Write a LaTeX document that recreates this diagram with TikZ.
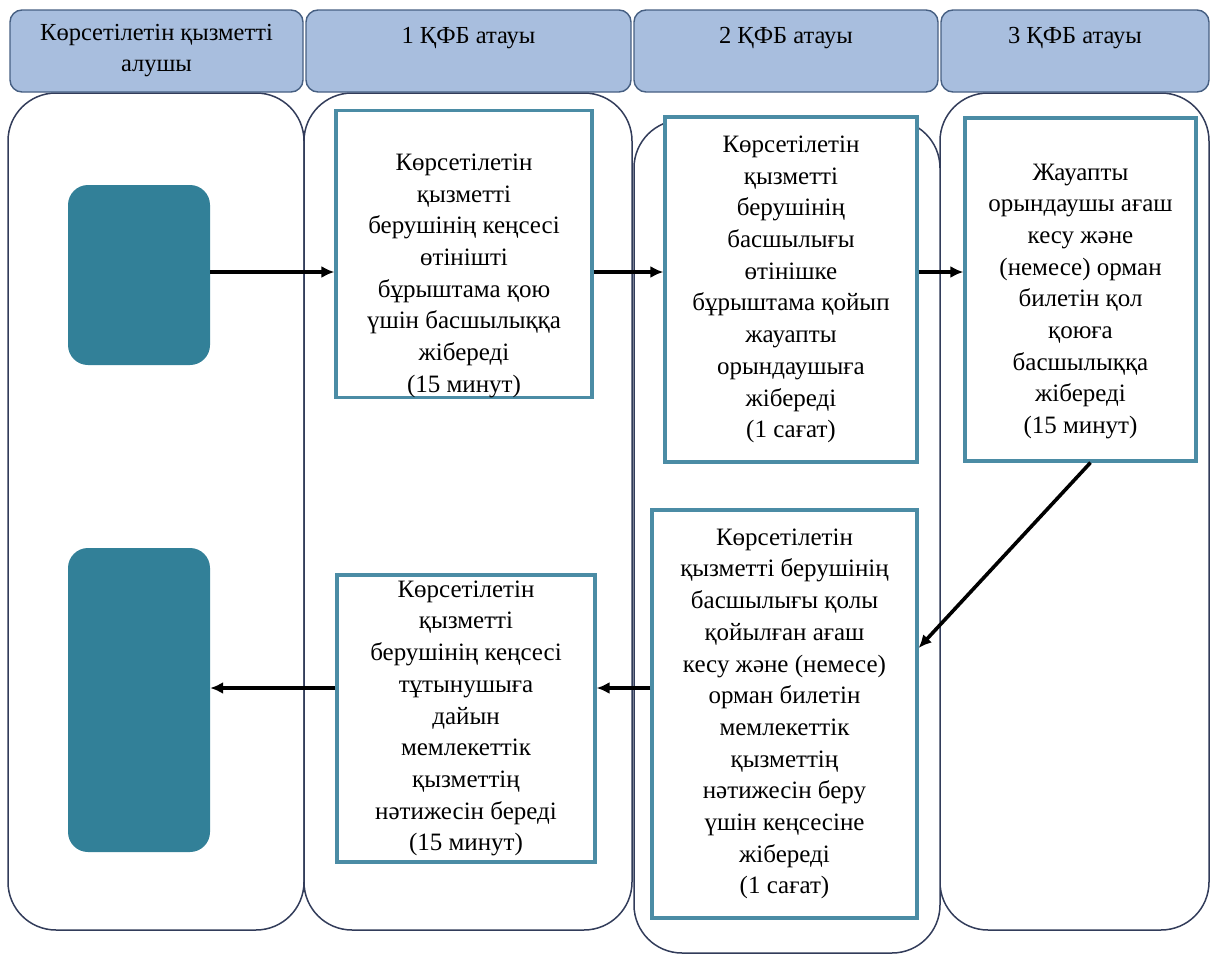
\documentclass[tikz,border=0pt]{standalone}
\usepackage{fontspec}
\setmainfont{Liberation Serif}
\usetikzlibrary{arrows.meta,positioning,calc}
\definecolor{headfill}{RGB}{168,190,222}
\definecolor{headline}{RGB}{70,95,130}
\definecolor{laneline}{RGB}{50,60,90}
\definecolor{tealfill}{RGB}{50,128,152}
\definecolor{boxline}{RGB}{75,140,165}
\tikzstyle{head} = [draw=headline,fill=headfill,rounded corners=12pt,line width=1.4pt,align=center,inner sep=0pt,font=\fontsize{24.5}{31}\selectfont]
\tikzstyle{lane} = [draw=laneline,fill=white,rounded corners=48pt,line width=1.5pt,inner sep=0pt]
\tikzstyle{actor} = [fill=tealfill,rounded corners=20pt,inner sep=0pt]
\tikzstyle{stepbox} = [draw=boxline,fill=white,line width=3.2pt,align=center,inner sep=0pt,font=\fontsize{25}{31.7}\selectfont]
\tikzstyle{darrow} = [>={Latex[length=13pt,width=12pt]},->,line width=3.6pt]

\begin{document}
\begin{tikzpicture}[x=1pt,y=-1pt]
    \useasboundingbox (0,0) rectangle (1211,956);

    % lanes
    \node[lane,minimum width=296pt,minimum height=837pt] (lane1) at (156,511.5) {};
    \node[lane,minimum width=328pt,minimum height=837pt] (lane2) at (468,511.5) {};
    \node[lane,minimum width=269pt,minimum height=837pt] (lane4) at (1074.5,511.5) {};
    \node[lane,minimum width=306pt,minimum height=833pt] (lane3) at (787,536.5) {};

    % headers
    \node[head,minimum width=293pt,minimum height=82pt] (h1) at (156.5,51) {Көрсетілетін қызметті\\алушы};
    \node[head,minimum width=325pt,minimum height=82pt] (h2) at (468.5,51) {1 ҚФБ атауы\\\mbox{}};
    \node[head,minimum width=304pt,minimum height=82pt] (h3) at (786,51) {2 ҚФБ атауы\\\mbox{}};
    \node[head,minimum width=268pt,minimum height=82pt] (h4) at (1075,51) {3 ҚФБ атауы\\\mbox{}};

    % service receiver
    \node[actor,minimum width=142pt,minimum height=180pt] (start) at (139,275) {};
    \node[actor,minimum width=142pt,minimum height=304pt] (finish) at (139,700) {};

    % steps
    \node[stepbox,minimum width=256pt,minimum height=272pt] (s1) at (464,254)
      {\rule{0pt}{60pt}Көрсетілетін\\қызметті\\берушінің кеңсесі\\өтінішті\\бұрыштама қою\\үшін басшылыққа\\жібереді\\(15 минут)};
    \node[stepbox,minimum width=252pt,minimum height=345pt] (s2) at (791,289.5)
      {Көрсетілетін\\қызметті\\берушінің\\басшылығы\\өтінішке\\бұрыштама қойып\\жауапты\\орындаушыға\\жібереді\\(1 сағат)};
    \node[stepbox,minimum width=231pt,minimum height=343pt] (s3) at (1080.5,289.5)
      {\rule{0pt}{40pt}Жауапты\\орындаушы ағаш\\кесу және\\(немесе) орман\\билетін қол\\қоюға\\басшылыққа\\жібереді\\(15 минут)};
    \node[stepbox,minimum width=265pt,minimum height=408pt] (s4) at (784.5,714)
      {Көрсетілетін\\қызметті берушінің\\басшылығы қолы\\қойылған ағаш\\кесу және (немесе)\\орман билетін\\мемлекеттік\\қызметтің\\нәтижесін беру\\үшін кеңсесіне\\жібереді\\(1 сағат)};
    \node[stepbox,minimum width=258pt,minimum height=287pt] (s5) at (466,718.5)
      {Көрсетілетін\\қызметті\\берушінің кеңсесі\\тұтынушыға\\дайын\\мемлекеттік\\қызметтің\\нәтижесін береді\\(15 минут)};

    % arrows
    \coordinate (row1) at (0,272);
    \coordinate (row2) at (0,688);
    \draw[darrow] (start.east |- row1) -- (s1.west |- row1);
    \draw[darrow] (s1.east |- row1) -- (s2.west |- row1);
    \draw[darrow] (s2.east |- row1) -- (s3.west |- row1);
    \draw[darrow] ([xshift=10pt]s3.south) -- ([yshift=66pt]s4.east);
    \draw[darrow] (s4.west |- row2) -- (s5.east |- row2);
    \draw[darrow] (s5.west |- row2) -- (finish.east |- row2);
\end{tikzpicture}
\end{document}
